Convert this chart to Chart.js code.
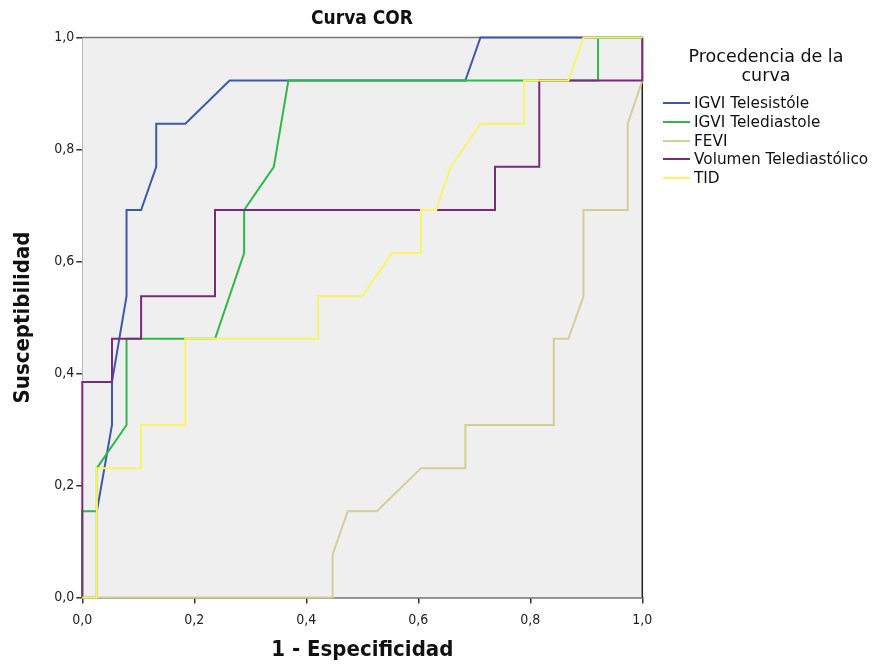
<!DOCTYPE html>
<html>
<head>
<meta charset="utf-8">
<script src="https://cdn.jsdelivr.net/npm/chart.js@4"></script>
<style>
  html, body { margin:0; padding:0; background:#fff; }
  #wrap { position:relative; width:874px; height:665px; }
  canvas { position:absolute; left:0; top:0; }
  #title { position:absolute; left:262px; width:200px; top:4px; text-align:center; font-family:'DejaVu Sans Condensed', 'DejaVu Sans', sans-serif; font-weight:bold; font-size:19px; line-height:26px; color:#111; }
  #legend { position:absolute; left:655px; top:47px; width:222px; font-family:'DejaVu Sans', sans-serif; color:#111; }
  #legend .ttl { text-align:center; font-size:17.5px; line-height:19px; margin-bottom:9px; }
  #legend .item { display:flex; align-items:center; height:18.7px; font-size:15.3px; white-space:nowrap; }
  #legend .sw { width:27px; height:2px; margin:0 4px 0 8px; flex:none; }
</style>
</head>
<body>
<div id="wrap">
  <canvas id="c" width="874" height="665"></canvas>
  <div id="title">Curva COR</div>
  <div id="legend"></div>
</div>
<script>
// ---- data (1 - especificidad, susceptibilidad) ----
const seriesNames = ['IGVI Telesistóle', 'IGVI Telediastole', 'FEVI', 'Volumen Telediastólico', 'TID'];
const seriesColors = ['#3E58AC', '#2EB848', '#D3CE97', '#7C287D', '#F7F46A'];

const telesistoleX = [0, 0.026, 0.026, 0.053, 0.053, 0.079, 0.079, 0.105, 0.132, 0.132, 0.184, 0.263, 0.684, 0.711, 1];
const telesistoleY = [0, 0, 0.154, 0.308, 0.385, 0.538, 0.692, 0.692, 0.769, 0.846, 0.846, 0.923, 0.923, 1, 1];

const telediastoleX = [0, 0, 0.026, 0.026, 0.079, 0.079, 0.237, 0.289, 0.289, 0.342, 0.368, 0.921, 0.921, 1];
const telediastoleY = [0, 0.154, 0.154, 0.231, 0.308, 0.462, 0.462, 0.615, 0.692, 0.769, 0.923, 0.923, 1, 1];

const feviX = [0, 0.447, 0.447, 0.474, 0.526, 0.605, 0.684, 0.684, 0.842, 0.842, 0.868, 0.895, 0.895, 0.974, 0.974, 1, 1];
const feviY = [0, 0, 0.077, 0.154, 0.154, 0.231, 0.231, 0.308, 0.308, 0.462, 0.462, 0.538, 0.692, 0.692, 0.846, 0.923, 1];

const volumenX = [0, 0, 0.053, 0.053, 0.105, 0.105, 0.237, 0.237, 0.737, 0.737, 0.816, 0.816, 1, 1];
const volumenY = [0, 0.385, 0.385, 0.462, 0.462, 0.538, 0.538, 0.692, 0.692, 0.769, 0.769, 0.923, 0.923, 1];

const tidX = [0, 0.026, 0.026, 0.105, 0.105, 0.184, 0.184, 0.421, 0.421, 0.5, 0.553, 0.605, 0.605, 0.632, 0.658, 0.711, 0.789, 0.789, 0.868, 0.895, 1];
const tidY = [0, 0, 0.231, 0.231, 0.308, 0.308, 0.462, 0.462, 0.538, 0.538, 0.615, 0.615, 0.692, 0.692, 0.769, 0.846, 0.846, 0.923, 0.923, 1, 1];

const tickValues = [0, 0.2, 0.4, 0.6, 0.8, 1.0];

const allX = [telesistoleX, telediastoleX, feviX, volumenX, tidX];
const allY = [telesistoleY, telediastoleY, feviY, volumenY, tidY];

const datasets = seriesNames.map((name, i) => ({
  label: name,
  data: allX[i].map((x, j) => ({ x: x, y: allY[i][j] })),
  borderColor: seriesColors[i],
  backgroundColor: seriesColors[i],
  borderWidth: 2,
  showLine: true,
  pointRadius: 0,
  tension: 0,
  clip: 4,
  order: seriesNames.length - i
}));

const plotBg = {
  id: 'plotBg',
  beforeDatasetsDraw(chart) {
    const a = chart.chartArea, ctx = chart.ctx;
    ctx.save();
    ctx.fillStyle = '#efefef';
    ctx.fillRect(a.left, a.top, a.right - a.left, a.bottom - a.top);
    ctx.lineWidth = 1.5;
    ctx.strokeStyle = '#7a7a7a';
    ctx.beginPath(); ctx.moveTo(a.left, a.top); ctx.lineTo(a.right, a.top); ctx.stroke();
    ctx.strokeStyle = '#222';
    ctx.beginPath(); ctx.moveTo(a.right, a.top); ctx.lineTo(a.right, a.bottom); ctx.stroke();
    ctx.restore();
  }
};

const fmt = v => v.toFixed(1).replace('.', ',');
const tickFont = { family: "'Liberation Sans Narrow', 'DejaVu Sans Condensed', sans-serif", size: 14 };
const axisTitleFont = { family: "'DejaVu Sans Condensed', 'Liberation Sans Narrow', sans-serif", size: 22, weight: 'bold', lineHeight: 1.2 };

new Chart(document.getElementById('c'), {
  type: 'scatter',
  data: { datasets: datasets },
  options: {
    responsive: false,
    animation: false,
    layout: { padding: { left: 0, right: 231.7, top: 37.5, bottom: 0 } },
    plugins: {
      legend: { display: false },
      tooltip: { enabled: false },
      title: { display: false }
    },
    scales: {
      x: {
        type: 'linear', min: 0, max: 1,
        afterBuildTicks: s => { s.ticks = tickValues.map(v => ({ value: v })); },
        afterFit: s => { s.height = 67.5; },
        ticks: { callback: fmt, color: '#222', font: tickFont, padding: 8, maxRotation: 0 },
        grid: { drawOnChartArea: false, drawTicks: true, tickLength: 6, color: '#333', lineWidth: 1.5 },
        border: { display: true, color: '#333', width: 1.5 },
        title: { display: true, text: '1 - Especificidad', color: '#111', font: axisTitleFont, padding: { top: 0, bottom: 1.5 } }
      },
      y: {
        type: 'linear', min: 0, max: 1,
        afterBuildTicks: s => { s.ticks = tickValues.map(v => ({ value: v })); },
        afterFit: s => { s.width = 82.3; },
        ticks: { callback: fmt, color: '#222', font: tickFont, padding: 2 },
        grid: { drawOnChartArea: false, drawTicks: true, tickLength: 6, color: '#333', lineWidth: 1.5 },
        border: { display: true, color: '#333', width: 1.5 },
        title: { display: true, text: 'Susceptibilidad', color: '#111', font: axisTitleFont, padding: { top: 10.5, bottom: 0 } }
      }
    }
  },
  plugins: [plotBg]
});

// HTML legend
const lg = document.getElementById('legend');
lg.innerHTML = '<div class="ttl">Procedencia de la<br>curva</div>' +
  seriesNames.map((n, i) => '<div class="item"><span class="sw" style="background:' + seriesColors[i] + '"></span>' + n + '</div>').join('');
</script>
</body>
</html>
